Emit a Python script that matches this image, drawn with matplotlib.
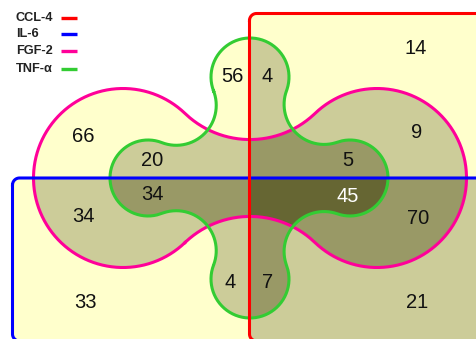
import numpy as np
import matplotlib
matplotlib.use("Agg")
import matplotlib.pyplot as plt
from matplotlib.path import Path
from matplotlib.colors import ListedColormap

plt.rcParams["font.family"] = ["Liberation Sans", "DejaVu Sans"]

set_names = ["CCL-4", "IL-6", "FGF-2", "TNF-α"]
set_colors = ["#ff0000", "#0000ff", "#ff0099", "#33cc33"]

# membership code per region, in the order CCL-4, IL-6, FGF-2, TNF-α
region_codes = ["1000", "0001", "1001", "0010", "1010", "0011", "1011",
                "0111", "1111", "0110", "1110", "0101", "1101", "0100", "1100"]
region_counts = [14, 56, 4, 66, 9, 20, 5, 34, 45, 34, 70, 4, 7, 33, 21]

# where each count is written (pixel coords, y down)
label_pos = {
    "1000": (416, 48), "0001": (232, 76), "1001": (267, 76),
    "0010": (83, 137), "1010": (417, 133), "0011": (152, 161),
    "1011": (348, 161), "0111": (152, 195), "1111": (348, 196),
    "0110": (83, 217), "1110": (418, 218), "0101": (230, 282),
    "1101": (268, 282), "0100": (85, 302), "1100": (417, 302),
}
fill_colors = ["#ffffff", "#ffffcc", "#cccc99", "#999966", "#666633"]

W, H = 476, 339


def arc(c, r, a0, a1, n=90):
    t = np.radians(np.linspace(a0, a1, n))
    return np.column_stack([c[0] + r * np.cos(t), c[1] + r * np.sin(t)])


def ang(c, p):
    return np.degrees(np.arctan2(p[1] - c[1], p[0] - c[0]))


def link(c1, r1, c2, r2, rho):
    # centre of a concave arc of radius rho touching both lobes from outside
    d = np.hypot(*(c2 - c1))
    a, b = rho + r1, rho + r2
    x = (a * a - b * b + d * d) / (2 * d)
    h = np.sqrt(a * a - x * x)
    u = (c2 - c1) / d
    n = np.array([-u[1], u[0]])
    return c1 + x * u - h * n


def blob(lobes, rhos):
    # lobes given clockwise on screen, joined by concave arcs
    k = len(lobes)
    cs = [np.array(c, float) for c, _ in lobes]
    rs = [r for _, r in lobes]
    joins = [link(cs[i], rs[i], cs[(i + 1) % k], rs[(i + 1) % k], rhos[i])
             for i in range(k)]
    pts = []
    for i in range(k):
        jp, jn = joins[i - 1], joins[i]
        a0, a1 = ang(cs[i], jp), ang(cs[i], jn)
        pts.append(arc(cs[i], rs[i], a0, a0 + (a1 - a0) % 360))
        nxt = cs[(i + 1) % k]
        b0, b1 = ang(jn, cs[i]), ang(jn, nxt)
        pts.append(arc(jn, rhos[i], b0, b0 - (b0 - b1) % 360))
    pts = np.vstack(pts)
    return np.vstack([pts, pts[:1]])


def rounded_rect(x0, y0, x1, y1, rad):
    pts = np.vstack([
        arc((x0 + rad, y0 + rad), rad, 180, 270, 20),
        arc((x1 - rad, y0 + rad), rad, 270, 360, 20),
        arc((x1 - rad, y1 - rad), rad, 0, 90, 20),
        arc((x0 + rad, y1 - rad), rad, 90, 180, 20),
    ])
    return np.vstack([pts, pts[:1]])


shapes = [
    rounded_rect(249.5, 13.5, 520, 341, 7),                      # CCL-4
    rounded_rect(12.5, 178, 520, 341, 7),                        # IL-6
    blob([((123, 178), 89.5), ((377, 178), 89.5)], [94, 94]),    # FGF-2
    blob([((250, 77), 39), ((350, 178), 38),
          ((250, 279), 39), ((148, 178), 38)], [40, 40, 40, 40]),  # TNF-α
]

# count how many sets cover each pixel
xs, ys = np.meshgrid(np.arange(W) + 0.5, np.arange(H) + 0.5)
grid = np.column_stack([xs.ravel(), ys.ravel()])
depth = np.zeros(W * H, int)
for pts in shapes:
    depth += Path(pts).contains_points(grid)
depth = depth.reshape(H, W)

fig = plt.figure(figsize=(W / 100, H / 100), dpi=100)
ax = fig.add_axes([0, 0, 1, 1])
ax.imshow(depth, cmap=ListedColormap(fill_colors), vmin=-0.5, vmax=4.5,
          extent=(0, W, H, 0), interpolation="nearest")

for idx in [2, 3, 1, 0]:
    pts = shapes[idx]
    ax.plot(pts[:, 0], pts[:, 1], color=set_colors[idx], lw=2.2,
            solid_joinstyle="round")

for code, n in zip(region_codes, region_counts):
    x, y = label_pos[code]
    ax.text(x, y, str(n), fontsize=14.5, ha="center", va="center",
            color="white" if code == "1111" else "#111111")

# legend
legend_y = [18.3, 34.3, 50.8, 69.2]
for name, col, y in zip(set_names, set_colors, legend_y):
    ax.text(16, y, name, fontsize=9.2, fontweight="bold", color="#222222",
            ha="left", va="center")
    ax.plot([61, 77], [y, y], color=col, lw=2.4, solid_capstyle="butt")

ax.set_xlim(0, W)
ax.set_ylim(H, 0)
ax.axis("off")
fig.savefig("out.png", dpi=100)
